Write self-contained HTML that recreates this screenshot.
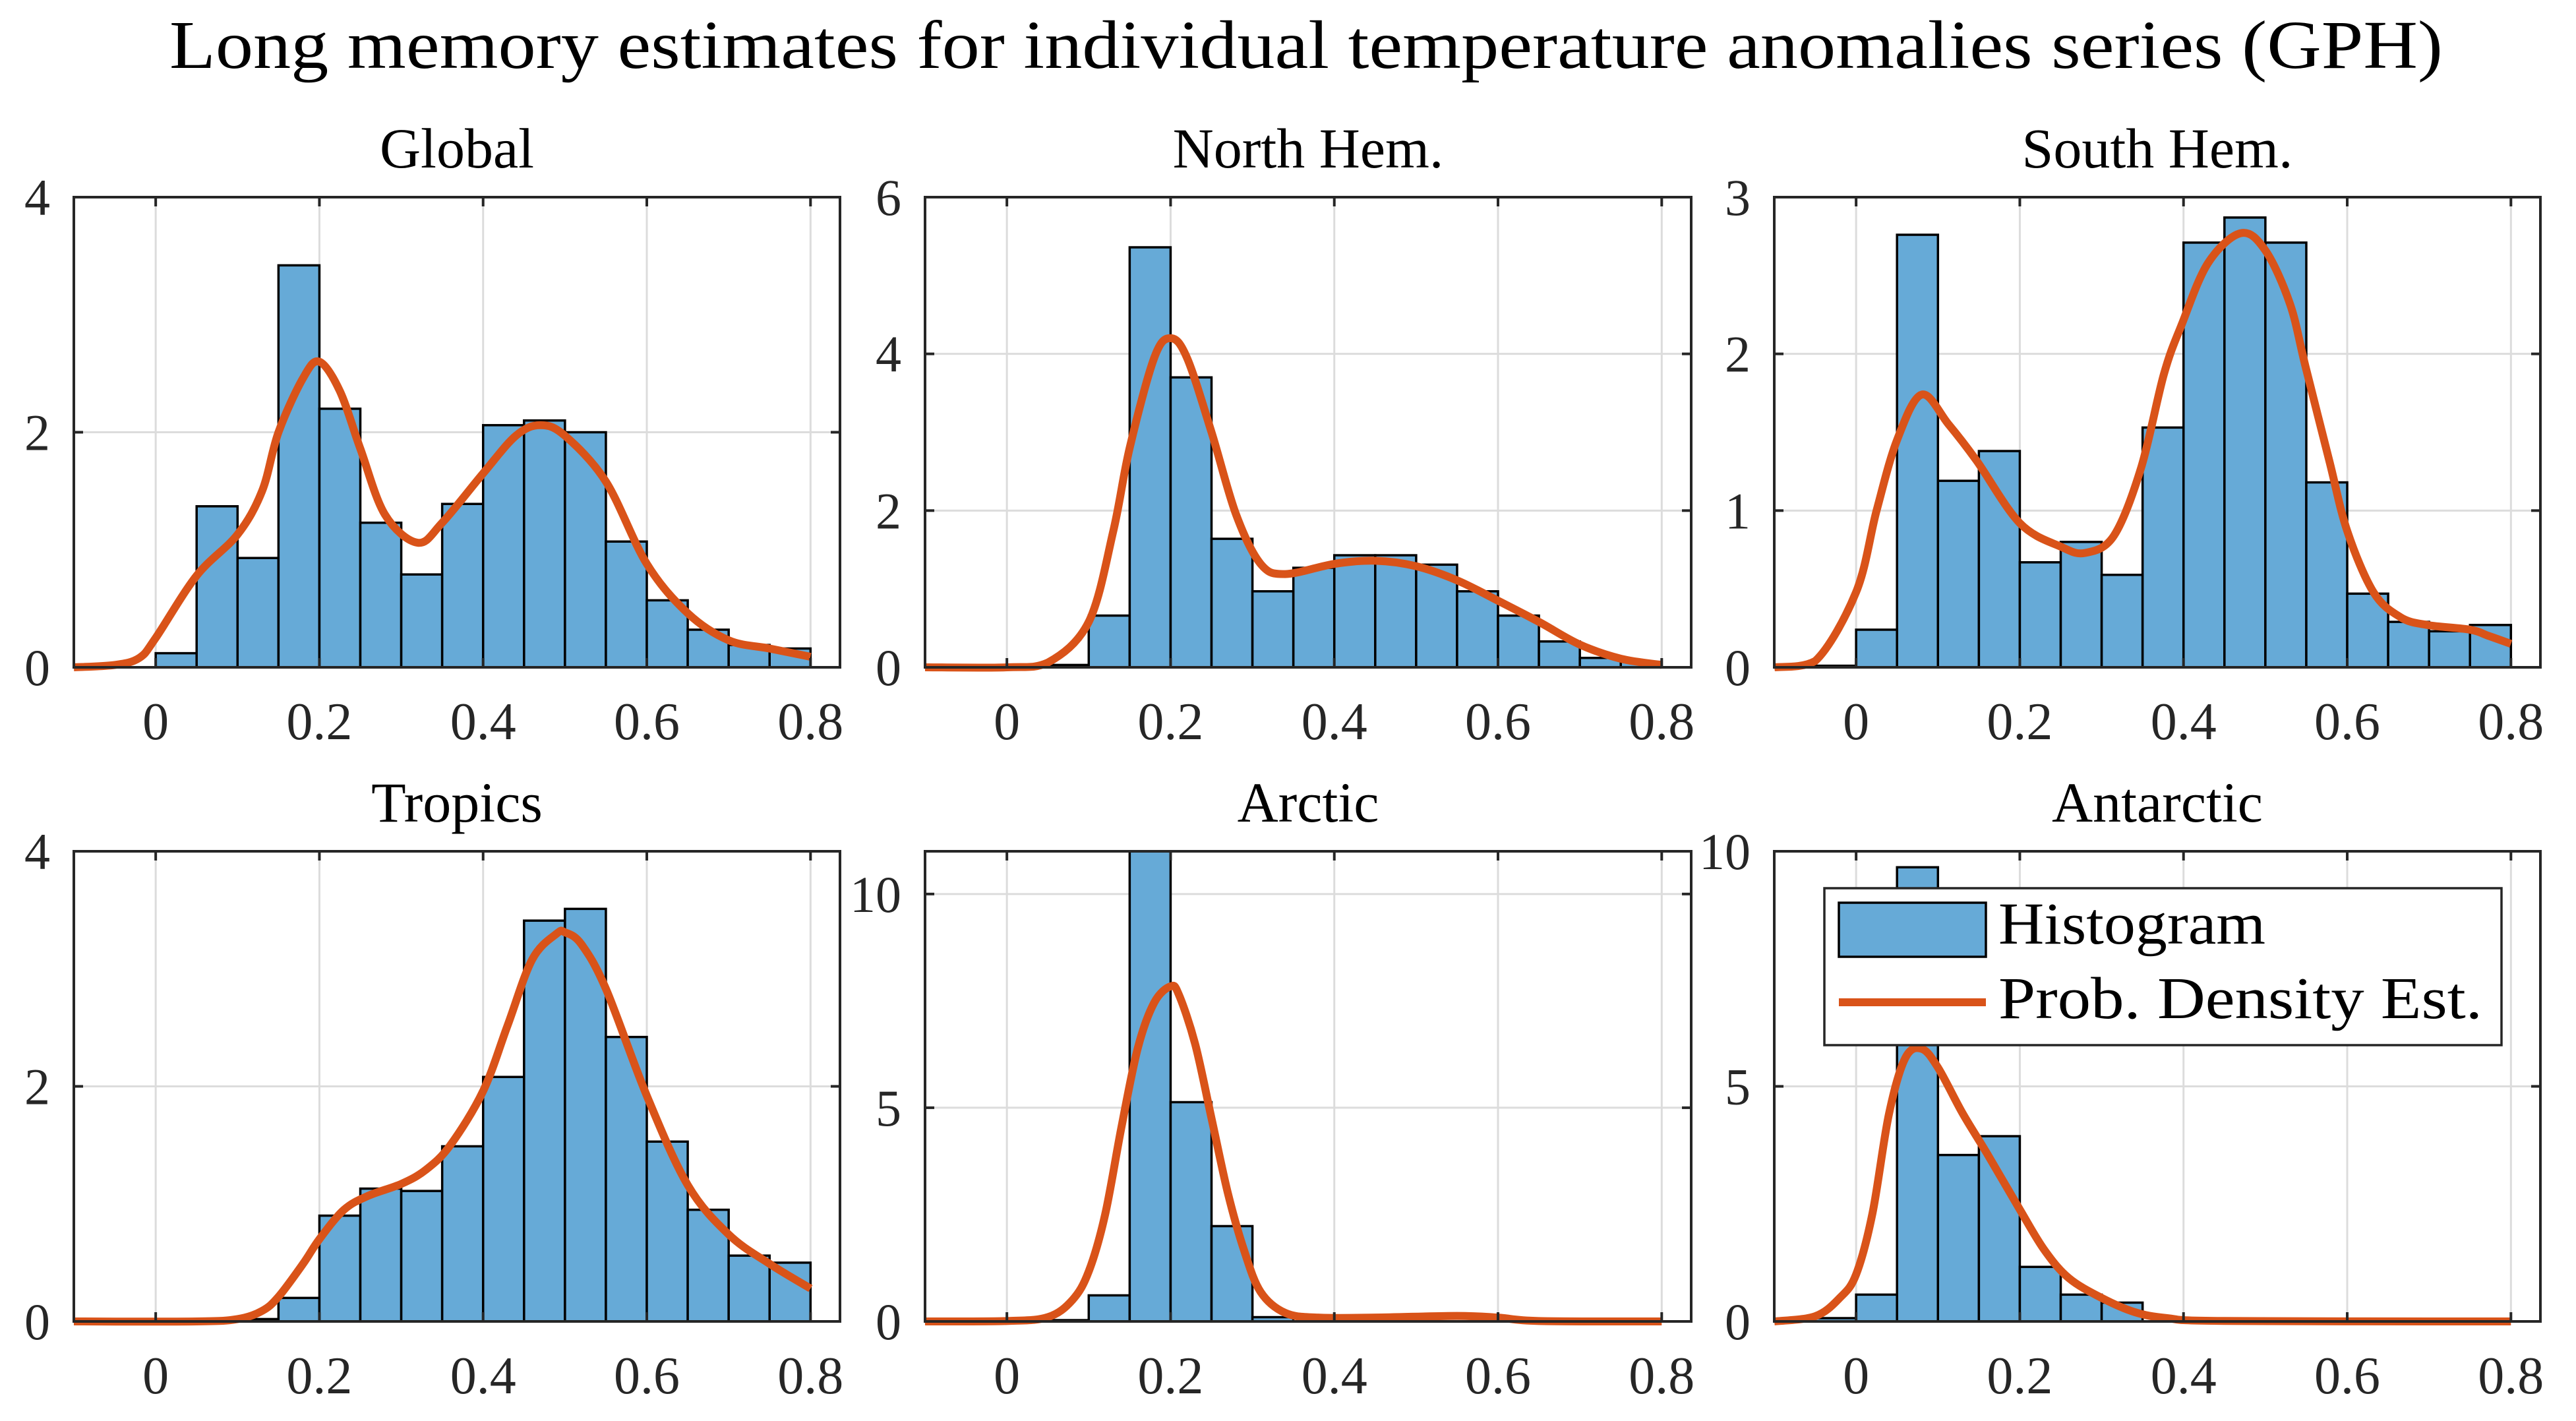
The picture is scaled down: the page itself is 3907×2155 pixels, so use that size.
<!DOCTYPE html>
<html><head><meta charset="utf-8"><style>
html,body{margin:0;padding:0;background:#fff;}
svg{display:block;font-family:"Liberation Serif",serif;}
</style></head><body>
<svg id="fig" width="3907" height="2155" viewBox="0 0 3907 2155" xmlns="http://www.w3.org/2000/svg">
<text x="257" y="103" font-size="104" textLength="3448" lengthAdjust="spacingAndGlyphs" fill="#000">Long memory estimates for individual temperature anomalies series (GPH)</text>
</svg>
<script>
// Histogram bins: 17 bins of width 0.05 starting at -0.05
const binStart = -0.05;
const binWidth = 0.05;
const titles = ["Global","North Hem.","South Hem.","Tropics","Arctic","Antarctic"];
const yMaxes = [4,6,3,4,11,10];
const yTicks0 = [0,2,4];
const yTicks1 = [0,2,4,6];
const yTicks2 = [0,1,2,3];
const yTicks3 = [0,2,4];
const yTicks4 = [0,5,10];
const yTicks5 = [0,5,10];
const xTicks = [0,0.2,0.4,0.6,0.8];
const xTickLabels = ["0","0.2","0.4","0.6","0.8"];

const hist0 = [0,0.12,1.37,0.93,3.42,2.20,1.23,0.79,1.39,2.06,2.10,2.00,1.07,0.57,0.32,0.19,0.16];
const hist1 = [0,0,0.03,0.66,5.36,3.70,1.64,0.97,1.27,1.43,1.43,1.31,0.97,0.66,0.33,0.12,0.07];
const hist2 = [0.01,0.24,2.76,1.19,1.38,0.67,0.80,0.59,1.53,2.71,2.87,2.71,1.18,0.47,0.29,0.23,0.27];
const hist3 = [0,0,0,0.02,0.20,0.90,1.13,1.11,1.49,2.08,3.41,3.51,2.42,1.53,0.95,0.56,0.50];
const hist4 = [0,0,0.03,0.61,12,5.13,2.23,0.10,0,0,0,0,0,0,0,0,0];
const hist5 = [0.07,0.57,9.66,3.54,3.94,1.16,0.57,0.40,0,0,0,0,0,0,0,0,0];

const pdfX0 = [-0.1,-0.05,-0.02,0,0.05,0.1,0.13,0.15,0.18,0.2,0.225,0.25,0.28,0.32,0.35,0.4,0.44,0.47,0.5,0.55,0.6,0.65,0.7,0.75,0.8];
const pdfY0 = [0,0.02,0.08,0.25,0.78,1.13,1.5,2.0,2.46,2.6,2.35,1.86,1.3,1.06,1.23,1.65,1.97,2.06,1.97,1.58,0.88,0.46,0.23,0.16,0.09];
const pdfX1 = [-0.1,0,0.05,0.1,0.13,0.15,0.18,0.2,0.22,0.25,0.28,0.31,0.34,0.4,0.45,0.5,0.55,0.6,0.65,0.7,0.75,0.8];
const pdfY1 = [0,0,0.06,0.58,1.74,2.8,3.95,4.2,3.95,3.0,1.95,1.32,1.19,1.32,1.36,1.29,1.11,0.85,0.58,0.29,0.11,0.03];
const pdfX2 = [-0.1,-0.05,0,0.025,0.05,0.08,0.113,0.147,0.2,0.25,0.28,0.315,0.348,0.376,0.398,0.43,0.47,0.5,0.53,0.549,0.578,0.6,0.632,0.665,0.698,0.75,0.773,0.8];
const pdfY2 = [0,0.04,0.48,1.0,1.45,1.74,1.55,1.32,0.92,0.77,0.73,0.84,1.27,1.87,2.19,2.58,2.77,2.66,2.32,1.92,1.32,0.87,0.48,0.32,0.27,0.24,0.2,0.15];
const pdfX3 = [-0.1,0.05,0.1,0.13,0.15,0.18,0.2,0.23,0.26,0.3,0.33,0.36,0.4,0.43,0.46,0.49,0.5,0.52,0.55,0.6,0.65,0.7,0.75,0.8];
const pdfY3 = [0,0,0.02,0.09,0.21,0.49,0.7,0.95,1.07,1.17,1.29,1.5,1.96,2.52,3.08,3.3,3.31,3.21,2.83,1.92,1.16,0.74,0.49,0.28];
const pdfX4 = [-0.1,0,0.05,0.08,0.1,0.12,0.14,0.16,0.18,0.2,0.21,0.23,0.25,0.27,0.29,0.31,0.34,0.38,0.45,0.55,0.6,0.65,0.8];
const pdfY4 = [0,0.01,0.1,0.5,1.17,2.5,4.55,6.4,7.46,7.84,7.65,6.49,4.75,3.0,1.65,0.69,0.2,0.09,0.09,0.13,0.09,0.01,0];
const pdfX5 = [-0.1,-0.05,-0.02,0,0.02,0.04,0.06,0.08,0.1,0.13,0.16,0.2,0.23,0.26,0.3,0.34,0.38,0.45,0.8];
const pdfY5 = [0,0.11,0.5,1.0,2.3,4.4,5.6,5.8,5.4,4.43,3.57,2.38,1.52,0.92,0.5,0.2,0.07,0.01,0];

const hists = [hist0,hist1,hist2,hist3,hist4,hist5];
const pdfXs = [pdfX0,pdfX1,pdfX2,pdfX3,pdfX4,pdfX5];
const pdfYs = [pdfY0,pdfY1,pdfY2,pdfY3,pdfY4,pdfY5];
const yTicksAll = [yTicks0,yTicks1,yTicks2,yTicks3,yTicks4,yTicks5];

const NS = "http://www.w3.org/2000/svg";
const svg = document.getElementById('fig');
const colLeft = [112,1403,2691];
const rowTop = [299,1291];
const W = 1162, H = 713;
const xMin = -0.1, xMax = 0.836;

function mk(tag, attrs, parent){
  const e = document.createElementNS(NS, tag);
  for (const k in attrs) e.setAttribute(k, attrs[k]);
  (parent||svg).appendChild(e);
  return e;
}

for (let p=0;p<6;p++){
  const L = colLeft[p%3], T = rowTop[Math.floor(p/3)], B = T+H, R = L+W;
  const yMax = yMaxes[p];
  const sx = v => L + (v-xMin)/(xMax-xMin)*W;
  const sy = v => B - v/yMax*H;
  const g = mk('g', {});
  
  
  const cid = 'clip'+p;
  const cp = mk('clipPath', {id:cid}, g);
  mk('rect', {x:L, y:T, width:W, height:H}, cp);
  // grid
  xTicks.forEach(t=>{
    const l = mk('line',{x1:sx(t),x2:sx(t),y1:T,y2:B,stroke:'#dcdcdc','stroke-width':3},g);
    
    
  });
  yTicksAll[p].forEach(t=>{
    const l = mk('line',{x1:L,x2:R,y1:sy(t),y2:sy(t),stroke:'#dcdcdc','stroke-width':3},g);
    
    
  });
  // bars
  const cg = mk('g',{'clip-path':'url(#'+cid+')'},g);
  hists[p].forEach((v,i)=>{
    if (v<=0) return;
    const x0 = sx(binStart+i*binWidth), x1 = sx(binStart+(i+1)*binWidth);
    const r = mk('rect',{x:x0,y:sy(v),width:x1-x0,height:B-sy(v),fill:'#66aad7',stroke:'#000','stroke-width':3.5},cg);
    
    
  });
  // pdf curve (Catmull-Rom)
  const xs = pdfXs[p], ys = pdfYs[p];
  const pts = xs.map((x,i)=>[sx(x), sy(ys[i])]);
  let d = 'M'+pts[0][0]+','+pts[0][1];
  for (let i=0;i<pts.length-1;i++){
    const p0 = pts[Math.max(0,i-1)], p1 = pts[i], p2 = pts[i+1], p3 = pts[Math.min(pts.length-1,i+2)];
    const c1x = p1[0]+(p2[0]-p0[0])/6, c1y = p1[1]+(p2[1]-p0[1])/6;
    const c2x = p2[0]-(p3[0]-p1[0])/6, c2y = p2[1]-(p3[1]-p1[1])/6;
    d += ' C'+c1x+','+Math.min(c1y,B+2)+' '+c2x+','+Math.min(c2y,B+2)+' '+p2[0]+','+p2[1];
  }
  const path = mk('path',{d:d,fill:'none',stroke:'#D95319','stroke-width':12,'stroke-linejoin':'round'},g);
  
  
  // box
  const box = mk('rect',{x:L,y:T,width:W,height:H,fill:'none',stroke:'#262626','stroke-width':4},g);
  
  
  // ticks & labels
  xTicks.forEach((t,i)=>{
    mk('line',{x1:sx(t),x2:sx(t),y1:B,y2:B-14,stroke:'#262626','stroke-width':4},g);
    mk('line',{x1:sx(t),x2:sx(t),y1:T,y2:T+14,stroke:'#262626','stroke-width':4},g);
    const tx = mk('text',{x:sx(t),y:B+109,'font-size':80,'text-anchor':'middle',fill:'#262626'},g);
    tx.textContent = xTickLabels[i];
    
    
  });
  yTicksAll[p].forEach(t=>{
    mk('line',{x1:L,x2:L+14,y1:sy(t),y2:sy(t),stroke:'#262626','stroke-width':4},g);
    mk('line',{x1:R,x2:R-14,y1:sy(t),y2:sy(t),stroke:'#262626','stroke-width':4},g);
    const ty = mk('text',{x:L-36,y:sy(t)+27,'font-size':78,'text-anchor':'end',fill:'#262626'},g);
    ty.textContent = String(t);
    
    
  });
  const tt = mk('text',{x:L+W/2,y:T-45,'font-size':86,'text-anchor':'middle',fill:'#000'},g);
  tt.textContent = titles[p];
  
  
}
// legend
const lg = mk('g',{});


mk('rect',{x:2767,y:1347,width:1027,height:238,fill:'#fff',stroke:'#262626','stroke-width':3.5},lg);
const lp = mk('rect',{x:2789,y:1369,width:223,height:82,fill:'#66aad7',stroke:'#000','stroke-width':3.5},lg);


const ll = mk('line',{x1:2789,x2:3012,y1:1520,y2:1520,stroke:'#D95319','stroke-width':12},lg);


const t1 = mk('text',{x:3031,y:1431,'font-size':90,textLength:405,lengthAdjust:'spacingAndGlyphs',fill:'#000'},lg);
t1.textContent = 'Histogram';


const t2 = mk('text',{x:3031,y:1544,'font-size':90,textLength:734,lengthAdjust:'spacingAndGlyphs',fill:'#000'},lg);
t2.textContent = 'Prob. Density Est.';


</script>
</body></html>
